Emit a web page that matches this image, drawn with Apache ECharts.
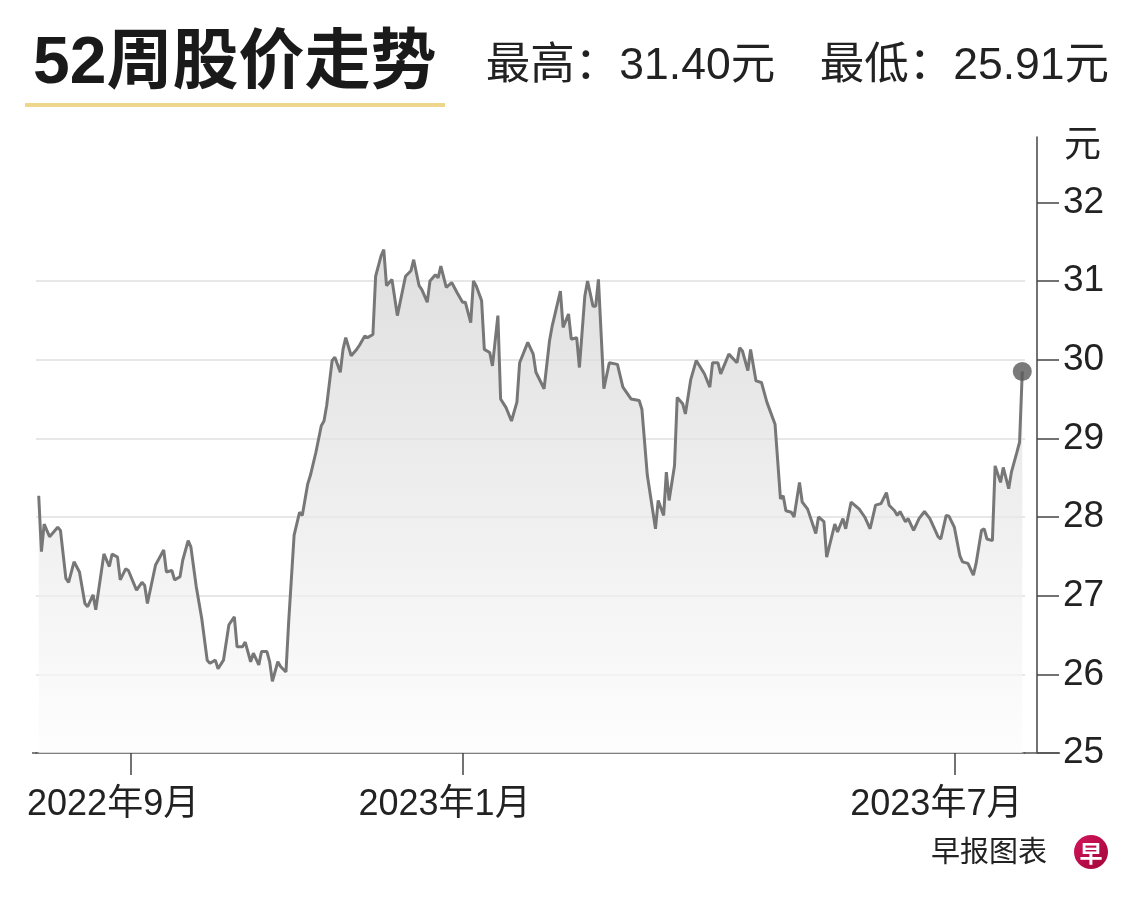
<!DOCTYPE html>
<html>
<head>
<meta charset="utf-8">
<title>52周股价走势</title>
<script src="https://cdn.jsdelivr.net/npm/echarts@6/dist/echarts.min.js"></script>
<style>
    html, body { margin: 0; padding: 0; background: #fff; }
    #container { width: 1140px; height: 900px; }
</style>
</head>
<body>
<div id="container"></div>
<script>
var dates = [
    '2022-07-29', '2022-07-30', '2022-07-31', '2022-08-02', '2022-08-05', '2022-08-06', '2022-08-08', '2022-08-09',
    '2022-08-11', '2022-08-13', '2022-08-15', '2022-08-16', '2022-08-18', '2022-08-19', '2022-08-22', '2022-08-24',
    '2022-08-25', '2022-08-27', '2022-08-28', '2022-08-30', '2022-08-31', '2022-09-03', '2022-09-05', '2022-09-06',
    '2022-09-07', '2022-09-10', '2022-09-13', '2022-09-14', '2022-09-16', '2022-09-17', '2022-09-19', '2022-09-20',
    '2022-09-22', '2022-09-23', '2022-09-25', '2022-09-27', '2022-09-29', '2022-09-30', '2022-10-02', '2022-10-03',
    '2022-10-05', '2022-10-07', '2022-10-09', '2022-10-10', '2022-10-12', '2022-10-13', '2022-10-15', '2022-10-16',
    '2022-10-18', '2022-10-19', '2022-10-21', '2022-10-22', '2022-10-23', '2022-10-25', '2022-10-26', '2022-10-28',
    '2022-10-29', '2022-10-31', '2022-11-02', '2022-11-03', '2022-11-05', '2022-11-06', '2022-11-08', '2022-11-10',
    '2022-11-11', '2022-11-12', '2022-11-14', '2022-11-15', '2022-11-17', '2022-11-18', '2022-11-19', '2022-11-21',
    '2022-11-23', '2022-11-24', '2022-11-26', '2022-11-27', '2022-11-29', '2022-11-30', '2022-12-02', '2022-12-03',
    '2022-12-04', '2022-12-06', '2022-12-08', '2022-12-11', '2022-12-13', '2022-12-14', '2022-12-16', '2022-12-17',
    '2022-12-19', '2022-12-20', '2022-12-22', '2022-12-23', '2022-12-24', '2022-12-26', '2022-12-28', '2022-12-30',
    '2023-01-01', '2023-01-02', '2023-01-04', '2023-01-05', '2023-01-06', '2023-01-08', '2023-01-09', '2023-01-11',
    '2023-01-12', '2023-01-14', '2023-01-15', '2023-01-17', '2023-01-19', '2023-01-21', '2023-01-22', '2023-01-25',
    '2023-01-27', '2023-01-28', '2023-01-31', '2023-02-02', '2023-02-03', '2023-02-06', '2023-02-07', '2023-02-09',
    '2023-02-10', '2023-02-12', '2023-02-13', '2023-02-15', '2023-02-16', '2023-02-18', '2023-02-19', '2023-02-20',
    '2023-02-22', '2023-02-24', '2023-02-27', '2023-03-01', '2023-03-04', '2023-03-07', '2023-03-08', '2023-03-10',
    '2023-03-13', '2023-03-14', '2023-03-16', '2023-03-17', '2023-03-18', '2023-03-20', '2023-03-21', '2023-03-23',
    '2023-03-24', '2023-03-26', '2023-03-28', '2023-03-31', '2023-04-02', '2023-04-03', '2023-04-05', '2023-04-06',
    '2023-04-09', '2023-04-12', '2023-04-13', '2023-04-14', '2023-04-16', '2023-04-17', '2023-04-19', '2023-04-21',
    '2023-04-23', '2023-04-26', '2023-04-28', '2023-04-29', '2023-04-30', '2023-05-02', '2023-05-03', '2023-05-05',
    '2023-05-06', '2023-05-08', '2023-05-11', '2023-05-12', '2023-05-14', '2023-05-15', '2023-05-17', '2023-05-18',
    '2023-05-19', '2023-05-21', '2023-05-22', '2023-05-24', '2023-05-27', '2023-05-29', '2023-05-31', '2023-06-02',
    '2023-06-04', '2023-06-06', '2023-06-07', '2023-06-09', '2023-06-10', '2023-06-11', '2023-06-13', '2023-06-14',
    '2023-06-16', '2023-06-18', '2023-06-20', '2023-06-22', '2023-06-25', '2023-06-26', '2023-06-28', '2023-06-29',
    '2023-07-01', '2023-07-03', '2023-07-04', '2023-07-06', '2023-07-08', '2023-07-09', '2023-07-11', '2023-07-12',
    '2023-07-13', '2023-07-15', '2023-07-16', '2023-07-18', '2023-07-19', '2023-07-21', '2023-07-22', '2023-07-24',
    '2023-07-25', '2023-07-26'
];

var prices = [
    28.27, 27.56, 27.91, 27.75, 27.87, 27.83, 27.22, 27.17,
    27.43, 27.30, 26.90, 26.86, 27.01, 26.82, 27.53, 27.37,
    27.53, 27.49, 27.20, 27.34, 27.32, 27.07, 27.17, 27.13,
    26.90, 27.39, 27.58, 27.30, 27.32, 27.20, 27.24, 27.45,
    27.70, 27.62, 27.11, 26.71, 26.18, 26.14, 26.18, 26.07,
    26.18, 26.63, 26.73, 26.35, 26.35, 26.41, 26.16, 26.27,
    26.12, 26.29, 26.29, 26.16, 25.91, 26.16, 26.10, 26.03,
    26.67, 27.77, 28.06, 28.02, 28.42, 28.53, 28.82, 29.16,
    29.22, 29.42, 29.99, 30.03, 29.84, 30.13, 30.28, 30.05,
    30.13, 30.18, 30.30, 30.28, 30.32, 31.06, 31.32, 31.40,
    30.94, 31.02, 30.56, 31.06, 31.13, 31.27, 30.94, 30.89,
    30.73, 31.00, 31.08, 31.04, 31.19, 30.92, 30.98, 30.85,
    30.73, 30.73, 30.47, 31.00, 30.94, 30.75, 30.13, 30.09,
    29.92, 30.56, 29.50, 29.39, 29.22, 29.46, 29.96, 30.22,
    30.07, 29.84, 29.63, 30.24, 30.43, 30.87, 30.41, 30.58,
    30.26, 30.28, 29.90, 30.81, 31.00, 30.68, 30.68, 31.02,
    29.63, 29.96, 29.94, 29.65, 29.50, 29.48, 29.37, 28.53,
    27.85, 28.21, 28.02, 28.57, 28.21, 28.65, 29.52, 29.44,
    29.31, 29.75, 29.99, 29.82, 29.65, 29.96, 29.96, 29.82,
    30.07, 29.96, 30.15, 30.11, 29.86, 30.13, 29.73, 29.71,
    29.46, 29.18, 28.23, 28.27, 28.08, 28.06, 28.00, 28.44,
    28.19, 28.10, 27.79, 28.00, 27.94, 27.49, 27.77, 27.91,
    27.81, 27.98, 27.85, 28.19, 28.10, 28.00, 27.85, 28.15,
    28.17, 28.31, 28.15, 28.08, 28.02, 28.07, 27.94, 27.98,
    27.83, 27.98, 28.07, 27.98, 27.75, 27.72, 28.02, 28.01,
    27.87, 27.51, 27.43, 27.41, 27.26, 27.41, 27.83, 27.85,
    27.72, 27.70, 28.65, 28.44, 28.63, 28.36, 28.57, 28.82,
    28.95, 29.85
];

var tickDates = ['2022-09-01', '2023-01-01', '2023-07-01'];
var yTicks = [25, 26, 27, 28, 29, 30, 31, 32];
var titleText = '52周股价走势';
var highText = '最高：31.40元';
var lowText = '最低：25.91元';
var unitText = '元';
var sourceText = '早报图表';

var fontFamily = "'Liberation Sans', 'Noto Sans CJK SC', sans-serif";

printChart();

function toTime(s) {
    return echarts.time.parse(s).getTime();
}

function printChart() {
    var dom = document.getElementById('container');
    var myChart = echarts.init(dom);

    var seriesData = dates.map(function (d, i) {
        return [toTime(d), prices[i]];
    });
    var last = seriesData[seriesData.length - 1];
    var tickValues = tickDates.map(toTime);

    var option = {
        animation: false,
        backgroundColor: '#fff',
        textStyle: { fontFamily: fontFamily },
        title: [
            {
                text: titleText,
                left: 33,
                top: 32,
                padding: 0,
                textStyle: { fontSize: 66, lineHeight: 66, fontWeight: 'bold', color: '#1a1a1a', fontFamily: fontFamily }
            },
            {
                text: highText + '\u3000' + lowText,
                right: 31,
                top: 45,
                padding: 0,
                textStyle: { fontSize: 44.5, lineHeight: 44, fontWeight: 'normal', color: '#222', fontFamily: fontFamily }
            },
            {
                text: sourceText,
                left: 931,
                top: 839,
                padding: 0,
                textStyle: { fontSize: 29, lineHeight: 30, fontWeight: 'normal', color: '#222', fontFamily: fontFamily }
            }
        ],
        grid: {
            left: 36,
            right: 115,
            top: 137,
            bottom: 147
        },
        xAxis: {
            type: 'value',
            min: toTime('2022-07-28'),
            max: toTime('2023-07-27'),
            splitLine: { show: false },
            axisLine: { lineStyle: { color: '#555', width: 1.5 } },
            axisTick: {
                show: true,
                customValues: tickValues,
                length: 22,
                lineStyle: { color: '#444', width: 1.5 }
            },
            axisLabel: {
                customValues: tickValues,
                formatter: function (value) {
                    var d = new Date(value);
                    return d.getFullYear() + '年' + (d.getMonth() + 1) + '月';
                },
                fontSize: 36,
                color: '#222',
                margin: 34,
                padding: [0, 36, 0, 0],
                fontFamily: fontFamily
            }
        },
        yAxis: {
            type: 'value',
            position: 'right',
            offset: 12,
            min: 25,
            max: 32.83,
            interval: 1,
            name: unitText,
            nameLocation: 'end',
            nameGap: -10,
            nameTextStyle: {
                fontSize: 37,
                color: '#222',
                align: 'left',
                verticalAlign: 'middle',
                padding: [0, 0, 0, 27],
                fontFamily: fontFamily
            },
            axisLine: { show: true, lineStyle: { color: '#444', width: 1.5 } },
            axisTick: {
                show: true,
                customValues: yTicks,
                length: 22,
                lineStyle: { color: '#444', width: 1.5 }
            },
            axisLabel: {
                customValues: yTicks,
                fontSize: 37,
                color: '#222',
                margin: 26,
                padding: [0, 0, 12, 0],
                fontFamily: fontFamily
            },
            splitLine: {
                show: true,
                showMinLine: false,
                showMaxLine: false,
                lineStyle: { color: '#e7e7e7', width: 2 }
            }
        },
        series: [
            {
                name: '股价',
                type: 'line',
                data: seriesData,
                symbol: 'none',
                lineStyle: { color: '#777', width: 3 },
                areaStyle: {
                    origin: 'start',
                    color: new echarts.graphic.LinearGradient(0, 0, 0, 1, [
                        { offset: 0, color: '#d2d2d2' },
                        { offset: 1, color: '#fdfdfd' }
                    ])
                },
                z: 2
            },
            {
                type: 'scatter',
                data: [last],
                symbolSize: 19,
                itemStyle: { color: '#595959' },
                z: 3
            }
        ],
        graphic: [
            // yellow bar under the title
            {
                type: 'rect',
                shape: { x: 25, y: 103, width: 420, height: 4 },
                style: { fill: '#eed68d' }
            },
            // x axis line runs out to the y axis and past it
            {
                type: 'line',
                shape: { x1: 1024, y1: 753, x2: 1060, y2: 753 },
                style: { stroke: '#555', lineWidth: 1.5 },
                z: 10
            },
            {
                type: 'line',
                shape: { x1: 32, y1: 753, x2: 37, y2: 753 },
                style: { stroke: '#555', lineWidth: 1.5 },
                z: 10
            },
            // logo
            {
                type: 'circle',
                shape: { cx: 1091, cy: 852, r: 17 },
                style: {
                    fill: new echarts.graphic.LinearGradient(0, 0, 1, 1, [
                        { offset: 0, color: '#d4145a' },
                        { offset: 1, color: '#a0073a' }
                    ])
                }
            },
            {
                type: 'text',
                x: 1091,
                y: 853,
                style: {
                    text: '早',
                    fill: '#fff',
                    font: "bold 23px 'Noto Sans CJK SC'",
                    textAlign: 'center',
                    textVerticalAlign: 'middle'
                }
            }
        ]
    };

    if (option && typeof option === 'object') {
        myChart.setOption(option, true);
    }
}
</script>
</body>
</html>
